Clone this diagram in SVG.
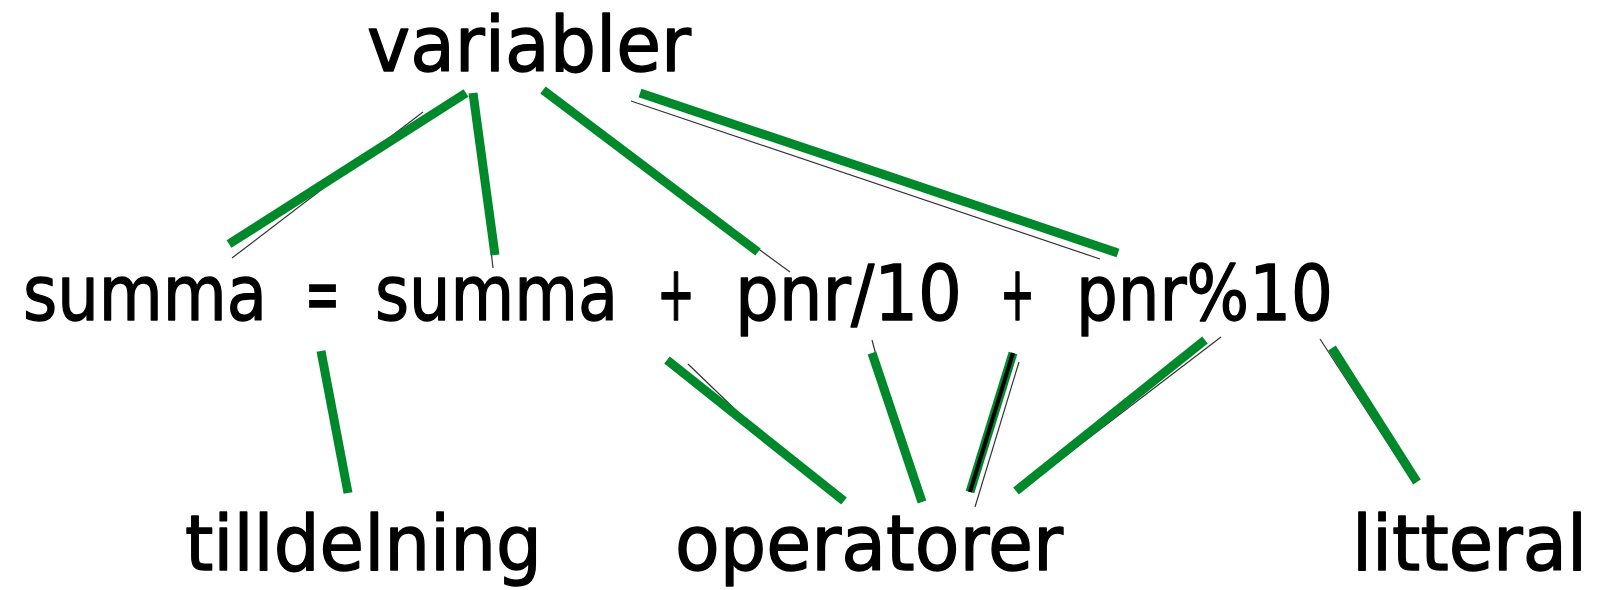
<svg xmlns="http://www.w3.org/2000/svg" width="1597" height="590" viewBox="0 0 1597 590">
  <style>
    .lbl { font-family: "DejaVu Sans", "Open Sans", sans-serif; font-size: 76px; fill: #000; stroke: #000; stroke-width: 1.4; stroke-linejoin: round; }
    .g { stroke: #00892b; stroke-width: 9; stroke-linecap: butt; fill: none; }
    .k { stroke: #000; stroke-width: 4; stroke-linecap: butt; fill: none; }
    .t { stroke: #333; stroke-width: 1.2; fill: none; }
  </style>
  <rect width="1597" height="590" fill="#fff"/>

  <g id="connectors">
    <!-- variabler to the statement -->
    <line class="t" x1="232" y1="258" x2="423" y2="112"/>
    <line class="g" x1="229" y1="244" x2="466" y2="93"/>
    <line class="t" x1="475" y1="110" x2="493" y2="268"/>
    <line class="g" x1="473" y1="93" x2="495" y2="255"/>
    <line class="t" x1="560" y1="104" x2="790" y2="272"/>
    <line class="g" x1="543" y1="90" x2="758" y2="252"/>
    <line class="t" x1="631" y1="101" x2="1100" y2="259"/>
    <line class="g" x1="640" y1="93" x2="1118" y2="253"/>

    <!-- statement to the categories -->
    <line class="g" x1="321" y1="351" x2="348" y2="493"/>
    <line class="t" x1="688" y1="364" x2="743" y2="417"/>
    <line class="g" x1="667" y1="360" x2="844" y2="501"/>
    <line class="t" x1="872" y1="340" x2="880" y2="370"/>
    <line class="g" x1="872" y1="353" x2="922" y2="502"/>
    <line class="g" x1="1013" y1="353" x2="970" y2="492"/>
    <line class="k" x1="1013" y1="353" x2="970" y2="492"/>
    <line class="t" x1="1019" y1="362" x2="975" y2="507"/>
    <line class="t" x1="1221" y1="337" x2="1018" y2="492"/>
    <line class="g" x1="1205" y1="340" x2="1016" y2="491"/>
    <line class="t" x1="1320" y1="339" x2="1413" y2="482"/>
    <line class="g" x1="1332" y1="348" x2="1417" y2="482"/>
  </g>

  <g id="variabler">
    <text class="lbl" x="367" y="71" textLength="324" lengthAdjust="spacingAndGlyphs">variabler</text>
  </g>

  <g id="statement">
    <text class="lbl" y="320"><tspan x="23" textLength="244" lengthAdjust="spacingAndGlyphs">summa</tspan> <tspan x="305" textLength="35" lengthAdjust="spacingAndGlyphs">=</tspan> <tspan x="375" textLength="243" lengthAdjust="spacingAndGlyphs">summa</tspan> <tspan x="657" textLength="38" lengthAdjust="spacingAndGlyphs">+</tspan> <tspan x="735" textLength="227" lengthAdjust="spacingAndGlyphs">pnr/10</tspan> <tspan x="1000" textLength="35" lengthAdjust="spacingAndGlyphs">+</tspan> <tspan x="1076" textLength="257" lengthAdjust="spacingAndGlyphs">pnr%10</tspan></text>
  </g>

  <g id="tilldelning">
    <text class="lbl" x="185" y="570" textLength="357" lengthAdjust="spacingAndGlyphs">tilldelning</text>
  </g>

  <g id="operatorer">
    <text class="lbl" x="675" y="570" textLength="388" lengthAdjust="spacingAndGlyphs">operatorer</text>
  </g>

  <g id="litteral">
    <text class="lbl" x="1352" y="570" textLength="235" lengthAdjust="spacingAndGlyphs">litteral</text>
  </g>
</svg>
